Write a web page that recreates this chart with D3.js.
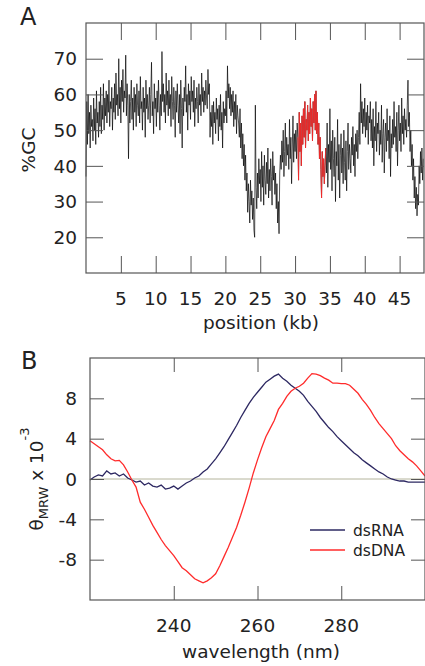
<!DOCTYPE html>
<html>
<head>
<meta charset="utf-8">
<script src="https://cdn.jsdelivr.net/npm/d3@7"></script>
<style>
  body { margin: 0; background: #fff; }
  svg text { font-family: "DejaVu Sans", Arial, sans-serif; fill: #222; }
</style>
</head>
<body>
<div id="chart"></div>
<script>
// Panel A: GC content along the genome, one value per 0.1 kb window (one row = 1 kb)
var gcStart = 0;
var gcStep = 0.1;
var gcValues = [
    37, 58, 46, 60, 49, 55, 45, 57, 51, 53,
    47, 59, 50, 56, 46, 61, 52, 55, 48, 58,
    51, 62, 49, 57, 53, 63, 50, 59, 54, 61,
    52, 60, 55, 64, 51, 58, 56, 62, 50, 59,
    55, 63, 53, 66, 57, 60, 54, 70, 56, 62,
    52, 64, 58, 67, 55, 61, 59, 71, 54, 63,
    57, 42, 60, 52, 58, 64, 53, 59, 50, 62,
    55, 60, 51, 63, 57, 54, 61, 52, 65, 56,
    58, 50, 62, 55, 59, 48, 64, 56, 60, 53,
    57, 62, 52, 60, 69, 54, 58, 49, 63, 56,
    59, 51, 61, 55, 64, 57, 50, 60, 54, 72,
    58, 63, 55, 60, 52, 66, 57, 61, 54, 64,
    56, 60, 51, 65, 58, 53, 62, 57, 48, 61,
    55, 63, 57, 52, 60, 49, 64, 56, 45, 59,
    54, 62, 58, 68, 55, 60, 50, 63, 57, 61,
    53, 65, 58, 61, 55, 64, 51, 59, 56, 62,
    58, 52, 63, 57, 60, 54, 66, 58, 62, 55,
    61, 57, 64, 59, 56, 67, 60, 63, 48, 55,
    51, 57, 46, 58, 52, 55, 49, 59, 53, 56,
    47, 57, 51, 60, 50, 55, 45, 58, 52, 56,
    54, 61, 52, 68, 59, 63, 56, 62, 54, 60,
    55, 61, 51, 58, 53, 60, 49, 57, 54, 52,
    48, 56, 45, 52, 42, 49, 40, 46, 36, 43,
    33, 38, 27, 35, 30, 24, 36, 29, 33, 25,
    31, 22, 20, 57, 34, 28, 38, 31, 42, 35,
    39, 30, 44, 34, 40, 29, 43, 36, 32, 41,
    35, 45, 31, 39, 33, 42, 37, 29, 44, 36,
    40, 32, 38, 28, 35, 24, 30, 21, 38, 43,
    39, 47, 41, 50, 37, 44, 52, 40, 48, 43,
    46, 39, 53, 42, 48, 35, 45, 54, 41, 49,
    44, 50, 42, 52, 48, 36, 55, 44, 52, 40,
    54, 46, 56, 48, 58, 45, 53, 50, 57, 47,
    55, 49, 59, 51, 56, 47, 58, 52, 60, 50,
    61, 49, 55, 46, 52, 42, 48, 39, 31, 44,
    37, 42, 35, 40, 45, 38, 52, 34, 46, 41,
    56, 39, 47, 33, 50, 42, 37, 48, 30, 44,
    40, 53, 36, 46, 31, 43, 49, 38, 45, 35,
    50, 41, 36, 47, 33, 44, 52, 39, 46, 42,
    38, 48, 43, 51, 40, 46, 37, 49, 44, 50,
    42, 48, 55, 46, 63, 52, 58, 49, 56, 51,
    59, 48, 55, 50, 57, 46, 54, 52, 58, 47,
    53, 45, 56, 40, 51, 47, 58, 44, 52, 49,
    55, 43, 50, 46, 57, 41, 49, 53, 38, 48,
    52, 44, 56, 47, 50, 42, 54, 37, 49, 45,
    53, 46, 58, 48, 51, 44, 55, 40, 50, 57,
    47, 52, 44, 59, 49, 54, 46, 56, 50, 53,
    48, 57, 64, 51, 55, 44, 50, 40, 46, 36,
    42, 31, 37, 28, 34, 26, 32, 29, 40, 35,
    44, 38, 45, 36, 42
];
var highlightRange = [30.4, 34.4];   // kb, drawn in red
var gcTicksX = [5, 10, 15, 20, 25, 30, 35, 40, 45];
var gcTicksY = [20, 30, 40, 50, 60, 70];

// Panel B: CD spectra, 1 nm steps from 220 to 300 nm
var wavelengths = d3.range(220, 301, 1);
var dsRNA = [
    -0.1, 0.2, 0.4, 0.3, 0.8, 0.5, 0.6, 0.3, 0.5, 0.1,
    -0.1, -0.3, -0.2, -0.6, -0.4, -0.7, -0.8, -0.6, -1.0, -0.9,
    -0.7, -1.0, -0.7, -0.4, -0.2, 0.1, 0.3, 0.7, 1.0, 1.5,
    2.0, 2.6, 3.2, 3.9, 4.6, 5.3, 6.1, 6.8, 7.5, 8.1,
    8.6, 9.1, 9.6, 9.9, 10.2, 10.4, 10.0, 9.7, 9.3, 9.0,
    8.7, 8.3, 7.7, 7.2, 6.7, 6.1, 5.6, 5.1, 4.7, 4.2,
    3.8, 3.4, 3.0, 2.6, 2.3, 1.9, 1.6, 1.3, 1.0, 0.7,
    0.5, 0.2, 0.0, -0.1, -0.2, -0.2, -0.3, -0.3, -0.3, -0.3,
    -0.3
];
var dsDNA = [
    3.8, 3.5, 3.2, 2.9, 2.4, 2.0, 1.8, 1.85, 1.4, 0.7,
    -0.1, -0.8, -2.3, -3.0, -3.8, -4.6, -5.3, -6.0, -6.6, -7.1,
    -7.6, -8.2, -8.8, -9.1, -9.5, -9.9, -10.1, -10.3, -10.1, -9.8,
    -9.4, -8.6, -7.7, -6.8, -5.8, -4.8, -3.6, -2.3, -0.9, 0.6,
    1.9, 3.1, 4.2, 5.0, 5.8, 6.9, 7.5, 8.2, 8.7, 9.0,
    9.2, 9.5, 10.0, 10.45, 10.4, 10.25, 10.0, 9.8, 9.5, 9.5,
    9.45, 9.45, 9.3, 8.9, 8.5, 7.9, 7.4, 6.8, 6.1, 5.5,
    5.0, 4.5, 4.0, 3.3, 2.8, 2.4, 2.0, 1.7, 1.3, 0.8,
    0.3
];
var cdTicksX = [240, 260, 280];
var cdTicksY = [-8, -4, 0, 4, 8];
var seriesNames = ["dsRNA", "dsDNA"];
var seriesColors = ["#2d2862", "#ff2b2b"];

var svg = d3.select("#chart").append("svg").attr("width", 425).attr("height", 666);

var frameColor = "#555";
var labelSize = "18.5px";

// inward ticks on all four sides, box frame, and tick labels
function drawFrame(g, box, x, y, tickLen, xt, yt, yFmt) {
    function grey(s) {
        s.select(".domain").remove();
        s.selectAll("line").attr("stroke", frameColor);
    }
    g.append("g").attr("transform", "translate(0," + box.bottom + ")")
        .call(d3.axisBottom(x).tickValues(xt).tickSize(-tickLen).tickFormat("")).call(grey);
    g.append("g").attr("transform", "translate(0," + box.top + ")")
        .call(d3.axisTop(x).tickValues(xt).tickSize(-tickLen).tickFormat("")).call(grey);
    g.append("g").attr("transform", "translate(" + box.left + ",0)")
        .call(d3.axisLeft(y).tickValues(yt).tickSize(-tickLen).tickFormat("")).call(grey);
    g.append("g").attr("transform", "translate(" + box.right + ",0)")
        .call(d3.axisRight(y).tickValues(yt).tickSize(-tickLen).tickFormat("")).call(grey);
    g.append("rect").attr("x", box.left).attr("y", box.top)
        .attr("width", box.right - box.left).attr("height", box.bottom - box.top)
        .attr("fill", "none").attr("stroke", frameColor).attr("stroke-width", 1.2);

    g.selectAll(".xl").data(xt).enter().append("text")
        .attr("x", function (d) { return x(d); }).attr("y", box.bottom + 32)
        .attr("text-anchor", "middle").style("font-size", labelSize).text(function (d) { return d; });
    g.selectAll(".yl").data(yt).enter().append("text")
        .attr("x", 77).attr("y", function (d) { return y(d) + 6.7; })
        .attr("text-anchor", "end").style("font-size", labelSize).text(yFmt);
}

// ---------- Panel A ----------
var a = { left: 86, right: 424, top: 23, bottom: 273 };

var xA = d3.scaleLinear().domain([0, 48.5]).range([a.left, a.right]);
var yA = d3.scaleLinear().domain([10, 80]).range([a.bottom, a.top]);

var gcData = gcValues.map(function (v, i) {
    return { kb: gcStart + i * gcStep, gc: v };
});

var gA = svg.append("g");

var lineA = d3.line().x(function (d) { return xA(d.kb); }).y(function (d) { return yA(d.gc); });

gA.append("path").datum(gcData).attr("d", lineA)
    .attr("fill", "none").attr("stroke", "#000").attr("stroke-width", 0.8).attr("stroke-opacity", 0.85);

gA.append("path").datum(gcData.filter(function (d) {
        return d.kb >= highlightRange[0] - 1e-9 && d.kb <= highlightRange[1] + 1e-9;
    })).attr("d", lineA)
    .attr("fill", "none").attr("stroke", "#ff2b2b").attr("stroke-width", 0.8);

drawFrame(gA, a, xA, yA, 17, gcTicksX, gcTicksY, function (d) { return d; });

gA.append("text").attr("x", 261).attr("y", 329).attr("text-anchor", "middle")
    .style("font-size", labelSize).text("position (kb)");
gA.append("text").attr("transform", "translate(35,150) rotate(-90)").attr("text-anchor", "middle")
    .style("font-size", labelSize).text("%GC");
gA.append("text").attr("x", 20).attr("y", 25).style("font-size", "24px").text("A");

// ---------- Panel B ----------
var b = { left: 90, right: 425, top: 358, bottom: 600 };

var xB = d3.scaleLinear().domain([220, 300]).range([b.left, b.right]);
var yB = d3.scaleLinear().domain([-12, 12]).range([b.bottom, b.top]);

var gB = svg.append("g");

// zero line
gB.append("line").attr("x1", b.left).attr("x2", b.right)
    .attr("y1", yB(0)).attr("y2", yB(0))
    .attr("stroke", "#b4b49c").attr("stroke-width", 1);

[dsRNA, dsDNA].forEach(function (vals, k) {
    var line = d3.line().x(function (d, i) { return xB(wavelengths[i]); }).y(function (d) { return yB(d); });
    gB.append("path").datum(vals).attr("d", line)
        .attr("fill", "none").attr("stroke", seriesColors[k]).attr("stroke-width", 1.3);
});

drawFrame(gB, b, xB, yB, 14, cdTicksX, cdTicksY, function (d) { return d < 0 ? "-" + Math.abs(d) : d; });

gB.append("text").attr("x", 261).attr("y", 658).attr("text-anchor", "middle")
    .style("font-size", labelSize).text("wavelength (nm)");

var yLab = gB.append("text").attr("transform", "translate(43,479) rotate(-90)")
    .attr("text-anchor", "middle").style("font-size", labelSize);
yLab.append("tspan").text("\u03B8");
yLab.append("tspan").attr("dy", 5).style("font-size", "13px").text("MRW");
yLab.append("tspan").attr("dy", -5).text(" x 10");
yLab.append("tspan").attr("dy", -14).style("font-size", "13px").text("-3");

gB.append("text").attr("x", 21).attr("y", 369).style("font-size", "24px").text("B");

// legend
var legend = gB.selectAll(".legend").data(seriesNames).enter().append("g")
    .attr("transform", function (d, i) { return "translate(0," + (530 + i * 20) + ")"; });
legend.append("line").attr("x1", 310).attr("x2", 345).attr("y1", 0).attr("y2", 0)
    .attr("stroke", function (d, i) { return seriesColors[i]; }).attr("stroke-width", 1.3);
legend.append("text").attr("x", 353).attr("y", 5.5).style("font-size", "15.5px").text(function (d) { return d; });
</script>
</body>
</html>
